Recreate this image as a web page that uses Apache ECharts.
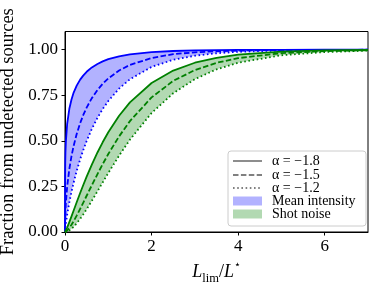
<!DOCTYPE html>
<html><head><meta charset="utf-8">
<script src="https://cdn.jsdelivr.net/npm/echarts@6/dist/echarts.min.js"></script>
<style>html,body{margin:0;padding:0;background:#fff}#c{width:379px;height:286px}</style>
</head><body><div id="c"></div>
<script>
// x values: L_lim / L*
var xs = [0, 0.001, 0.005, 0.01, 0.02, 0.05, 0.1, 0.15, 0.2, 0.27, 0.35, 0.42, 0.5, 0.62, 0.75, 0.87, 1, 1.25, 1.5, 2, 2.5, 3, 3.5, 4, 5, 6, 7];
// Mean intensity fraction
var meanA18 = [0, 0.274, 0.377, 0.433, 0.496, 0.593, 0.676, 0.727, 0.765, 0.803, 0.836, 0.858, 0.879, 0.903, 0.922, 0.936, 0.948, 0.964, 0.975, 0.987, 0.993, 0.996, 0.998, 0.9989, 0.9996, 0.9999, 1.0];
var meanA15 = [0, 0.0357, 0.0797, 0.1125, 0.1585, 0.2482, 0.3453, 0.4161, 0.4729, 0.5376, 0.5972, 0.6406, 0.6827, 0.7345, 0.7793, 0.8129, 0.8427, 0.8862, 0.9167, 0.9545, 0.9756, 0.9857, 0.9919, 0.9953, 0.9984, 0.9995, 0.9998];
var meanA12 = [0, 0.0043, 0.0155, 0.0269, 0.0465, 0.0956, 0.1628, 0.2204, 0.2716, 0.3351, 0.3989, 0.4485, 0.4992, 0.5654, 0.6262, 0.6741, 0.7186, 0.7870, 0.8380, 0.9057, 0.9447, 0.9674, 0.9807, 0.9886, 0.9959, 0.9986, 0.9995];
// Shot noise fraction
var shotA18 = [0, 0.0002, 0.0016, 0.0036, 0.0082, 0.0243, 0.0543, 0.0856, 0.1182, 0.1632, 0.2138, 0.2566, 0.3037, 0.3702, 0.4363, 0.4921, 0.5470, 0.6376, 0.7110, 0.8177, 0.8857, 0.9287, 0.9557, 0.9726, 0.9895, 0.9960, 0.9985];
var shotA15 = [0, 0.0000, 0.0003, 0.0007, 0.0021, 0.0082, 0.0224, 0.0400, 0.0598, 0.0900, 0.1268, 0.1601, 0.1988, 0.2566, 0.3177, 0.3719, 0.4276, 0.5247, 0.6084, 0.7385, 0.8291, 0.8884, 0.9281, 0.9540, 0.9814, 0.9926, 0.9971];
var shotA12 = [0, 0.0000, 0.0000, 0.0001, 0.0005, 0.0026, 0.0089, 0.0178, 0.0290, 0.0476, 0.0723, 0.0961, 0.1252, 0.1714, 0.2233, 0.2717, 0.3236, 0.4192, 0.5067, 0.6527, 0.7613, 0.8387, 0.8924, 0.9289, 0.9697, 0.9874, 0.9948];
var xTicks = [0, 2, 4, 6];
var yTicks = [0, 0.25, 0.5, 0.75, 1.0];
var legendLabels = ['α = −1.8', 'α = −1.5', 'α = −1.2', 'Mean intensity', 'Shot noise'];

function pts(ys) { return xs.map(function (x, i) { return [x, ys[i]]; }); }

var FONT = 'Liberation Serif';
var LW = 1.8;
function curve(ys, color, type) {
  return { type: 'line', data: pts(ys), symbol: 'none', smooth: false, z: 5,
    lineStyle: { color: color, width: LW, type: type, cap: 'butt', join: 'round' }, silent: true };
}
function band(lower, upper, color) {
  return {
    type: 'custom', data: [[0, 0]], z: 2, silent: true, clip: true,
    renderItem: function (params, api) {
      var p = [];
      for (var i = 0; i < xs.length; i++) p.push(api.coord([xs[i], upper[i]]));
      for (var k = xs.length - 1; k >= 0; k--) p.push(api.coord([xs[k], lower[k]]));
      return { type: 'polygon', shape: { points: p }, style: { fill: color } };
    }
  };
}

var series = [
  band(meanA12, meanA18, 'rgba(0,0,255,0.3)'),
  band(shotA12, shotA18, 'rgba(0,128,0,0.3)'),
  curve(meanA18, '#0000ff', 'solid'), curve(meanA15, '#0000ff', [5.5, 2.4]), curve(meanA12, '#0000ff', [1.6, 2.6]),
  curve(shotA18, '#008000', 'solid'), curve(shotA15, '#008000', [5.5, 2.4]), curve(shotA12, '#008000', [1.6, 2.6])
];

var LX = 228, LY = 151, rows = [161, 175, 188, 201, 214];
var g = [{ type: 'rect', shape: { x: LX, y: LY, width: 138, height: 75, r: 3 }, style: { fill: 'rgba(255,255,255,0.8)', stroke: '#cccccc', lineWidth: 1 }, z: 10 }];
var dashes = [null, [5.5, 2.4], [1.6, 2.6]];
for (var i = 0; i < 3; i++) {
  g.push({ type: 'line', shape: { x1: 233, y1: rows[i], x2: 262, y2: rows[i] }, style: { stroke: '#808080', lineWidth: LW, lineDash: dashes[i] }, z: 11 });
}
g.push({ type: 'rect', shape: { x: 233, y: rows[3] - 4.5, width: 29, height: 9 }, style: { fill: 'rgba(0,0,255,0.3)' }, z: 11 });
g.push({ type: 'rect', shape: { x: 233, y: rows[4] - 4.5, width: 29, height: 9 }, style: { fill: 'rgba(0,128,0,0.3)' }, z: 11 });
for (var j = 0; j < 5; j++) {
  g.push({ type: 'text', x: 272, y: rows[j], style: { text: legendLabels[j], font: '14px "' + FONT + '"', fill: '#000', verticalAlign: 'middle', align: 'left' }, z: 12 });
}

var chart = echarts.init(document.getElementById('c'), null, { renderer: 'canvas' });
chart.setOption({
  animation: false,
  backgroundColor: '#fff',
  textStyle: { fontFamily: FONT },
  grid: { left: 65, right: 11, top: 31.5, bottom: 54, containLabel: false, outerBoundsMode: 'none', show: true, borderColor: '#000', borderWidth: 1, backgroundColor: 'transparent' },
  xAxis: {
    type: 'value', min: 0, max: 7, interval: 2,
    axisLine: { show: true, lineStyle: { color: '#000', width: 1 } },
    axisTick: { show: true, length: 3.5, lineStyle: { color: '#000', width: 1 }, customValues: xTicks },
    axisLabel: { color: '#000', fontSize: 17, fontFamily: FONT, margin: 6, customValues: xTicks, formatter: function (v) { return String(v); } },
    splitLine: { show: false },
    name: '{it|L}{sub|lim}{n|/}{it|L}{sup|⋆}', nameLocation: 'middle', nameGap: 23,
    nameTextStyle: { color: '#000', fontFamily: FONT, fontSize: 18, rich: {
      it: { fontStyle: 'italic', fontSize: 18, fontFamily: FONT, lineHeight: 25 },
      n: { fontSize: 18, fontFamily: FONT, lineHeight: 25 },
      sub: { fontSize: 12.5, fontFamily: FONT, lineHeight: 12, verticalAlign: 'bottom' },
      sup: { fontSize: 11, fontFamily: 'DejaVu Sans', lineHeight: 12, verticalAlign: 'top' }
    } }
  },
  yAxis: {
    type: 'value', min: 0, max: 1.1, interval: 0.25,
    axisLine: { show: true, lineStyle: { color: '#000', width: 1 } },
    axisTick: { show: true, length: 3.5, lineStyle: { color: '#000', width: 1 }, customValues: yTicks },
    axisLabel: { color: '#000', fontSize: 17, fontFamily: FONT, margin: 7, customValues: yTicks, formatter: function (v) { return v.toFixed(2); } },
    splitLine: { show: false },
    name: 'Fraction from undetected sources', nameLocation: 'middle', nameGap: 43, nameRotate: 90,
    nameTextStyle: { color: '#000', fontFamily: FONT, fontSize: 18.5 }
  },
  series: series,
  graphic: g
});
</script></body></html>
